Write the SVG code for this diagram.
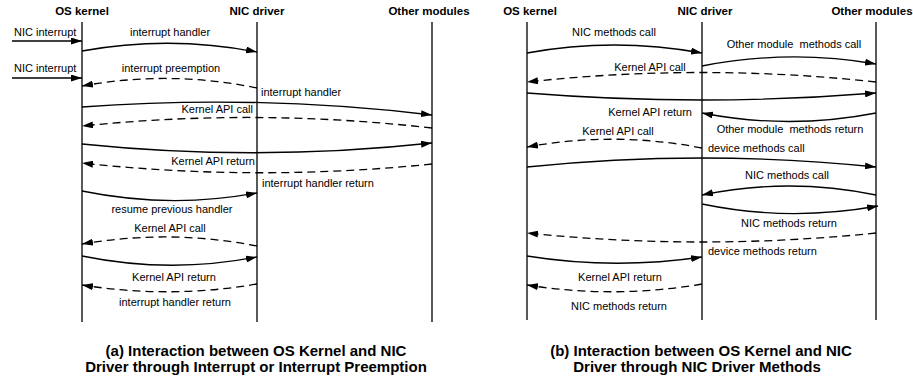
<svg xmlns="http://www.w3.org/2000/svg" width="913" height="381" viewBox="0 0 913 381">
  <style>
    .life { stroke: #000; stroke-width: 1.3; fill: none; }
    .msg { stroke: #000; stroke-width: 1.3; fill: none; marker-end: url(#arrow); }
    .dash { stroke-dasharray: 8 5; }
    text { font-family: "Liberation Sans", Arial, sans-serif; fill: #000; }
    .hdr { font-size: 11.5px; font-weight: bold; text-anchor: middle; }
    .lbl { font-size: 11px; }
    .mid { text-anchor: middle; }
    .end { text-anchor: end; }
    .cap { font-size: 15px; font-weight: bold; text-anchor: middle; }
  </style>
  <defs>
    <marker id="arrow" viewBox="0 0 11 7" refX="11" refY="3.5" markerWidth="11" markerHeight="7" markerUnits="userSpaceOnUse" orient="auto">
      <path d="M0,0 L11,3.5 L0,7 z" fill="#000"/>
    </marker>
  </defs>
  <rect width="913" height="381" fill="#fff"/>

  <!-- (a) interrupt / preemption sequence -->
  <g id="a-os-kernel">
    <text class="hdr" x="82" y="15">OS kernel</text>
    <line class="life" x1="82" y1="22" x2="82" y2="322"/>
  </g>
  <g id="a-nic-driver">
    <text class="hdr" x="257" y="15">NIC driver</text>
    <line class="life" x1="257" y1="22" x2="257" y2="322"/>
  </g>
  <g id="a-other-modules">
    <text class="hdr" x="429" y="15">Other modules</text>
    <line class="life" x1="432" y1="22" x2="432" y2="322"/>
  </g>

  <g id="a-connectors">
    <path class="msg" d="M12,41 H82"/>
    <path class="msg" d="M82,51 Q170,35 257,52"/>
    <path class="msg" d="M12,78 H82"/>
    <path class="msg dash" d="M257,88 Q170,70 82,86"/>
    <path class="msg" d="M82,107 Q257,94 432,115"/>
    <path class="msg dash" d="M432,128 Q257,108 82,126"/>
    <path class="msg" d="M82,144 Q257,162 432,143"/>
    <path class="msg dash" d="M432,164 Q257,182 82,163"/>
    <path class="msg" d="M82,191 Q170,209 257,193"/>
    <path class="msg dash" d="M257,246 Q170,229 82,244"/>
    <path class="msg" d="M82,256 Q170,274 257,257"/>
    <path class="msg dash" d="M257,284 Q170,299 82,285"/>
  </g>

  <g id="a-labels">
    <text class="lbl" x="14" y="36">NIC interrupt</text>
    <text class="lbl mid" x="170" y="36">interrupt handler</text>
    <text class="lbl" x="14" y="72">NIC interrupt</text>
    <text class="lbl mid" x="171" y="72">interrupt preemption</text>
    <text class="lbl" x="261" y="96">interrupt handler</text>
    <text class="lbl end" x="253" y="113">Kernel API call</text>
    <text class="lbl end" x="255" y="165">Kernel API return</text>
    <text class="lbl" x="262" y="187">interrupt handler return</text>
    <text class="lbl mid" x="172" y="213">resume previous handler</text>
    <text class="lbl mid" x="170" y="232">Kernel API call</text>
    <text class="lbl mid" x="174" y="281">Kernel API return</text>
    <text class="lbl mid" x="175" y="306">interrupt handler return</text>
  </g>

  <!-- (b) NIC driver method sequence -->
  <g id="b-os-kernel">
    <text class="hdr" x="530" y="15">OS kernel</text>
    <line class="life" x1="527" y1="22" x2="527" y2="320"/>
  </g>
  <g id="b-nic-driver">
    <text class="hdr" x="705" y="15">NIC driver</text>
    <line class="life" x1="702" y1="22" x2="702" y2="320"/>
  </g>
  <g id="b-other-modules">
    <text class="hdr" x="872" y="15">Other modules</text>
    <line class="life" x1="876" y1="22" x2="876" y2="320"/>
  </g>

  <g id="b-connectors">
    <path class="msg" d="M527,53 Q614,37 702,53"/>
    <path class="msg" d="M702,66 Q789,49 876,64"/>
    <path class="msg dash" d="M876,82 Q702,63 527,82"/>
    <path class="msg" d="M527,93 Q702,107 876,93"/>
    <path class="msg" d="M876,113 Q789,130 702,113"/>
    <path class="msg dash" d="M702,148 Q614,131 527,147"/>
    <path class="msg" d="M527,167 Q702,149 876,167"/>
    <path class="msg" d="M876,195 Q789,177 702,195"/>
    <path class="msg" d="M702,204 Q789,222 878,206"/>
    <path class="msg dash" d="M876,233 Q702,251 527,233"/>
    <path class="msg" d="M527,256 Q614,270 702,257"/>
    <path class="msg dash" d="M702,284 Q614,299 527,285"/>
  </g>

  <g id="b-labels">
    <text class="lbl mid" x="614" y="36">NIC methods call</text>
    <text class="lbl mid" x="794" y="48" xml:space="preserve">Other module  methods call</text>
    <text class="lbl mid" x="650" y="71">Kernel API call</text>
    <text class="lbl end" x="692" y="116">Kernel API return</text>
    <text class="lbl mid" x="790" y="133" xml:space="preserve">Other module  methods return</text>
    <text class="lbl mid" x="618" y="135">Kernel API call</text>
    <text class="lbl" x="708" y="152">device methods call</text>
    <text class="lbl mid" x="787" y="179">NIC methods call</text>
    <text class="lbl mid" x="789" y="227">NIC methods return</text>
    <text class="lbl" x="708" y="255">device methods return</text>
    <text class="lbl mid" x="620" y="281">Kernel API return</text>
    <text class="lbl mid" x="619" y="310">NIC methods return</text>
  </g>

  <g id="captions">
    <text class="cap" x="256" y="356">(a) Interaction between OS Kernel and NIC</text>
    <text class="cap" x="256" y="372">Driver through Interrupt or Interrupt Preemption</text>
    <text class="cap" x="701" y="356">(b) Interaction between OS Kernel and NIC</text>
    <text class="cap" x="697" y="372">Driver through NIC Driver Methods</text>
  </g>
</svg>
